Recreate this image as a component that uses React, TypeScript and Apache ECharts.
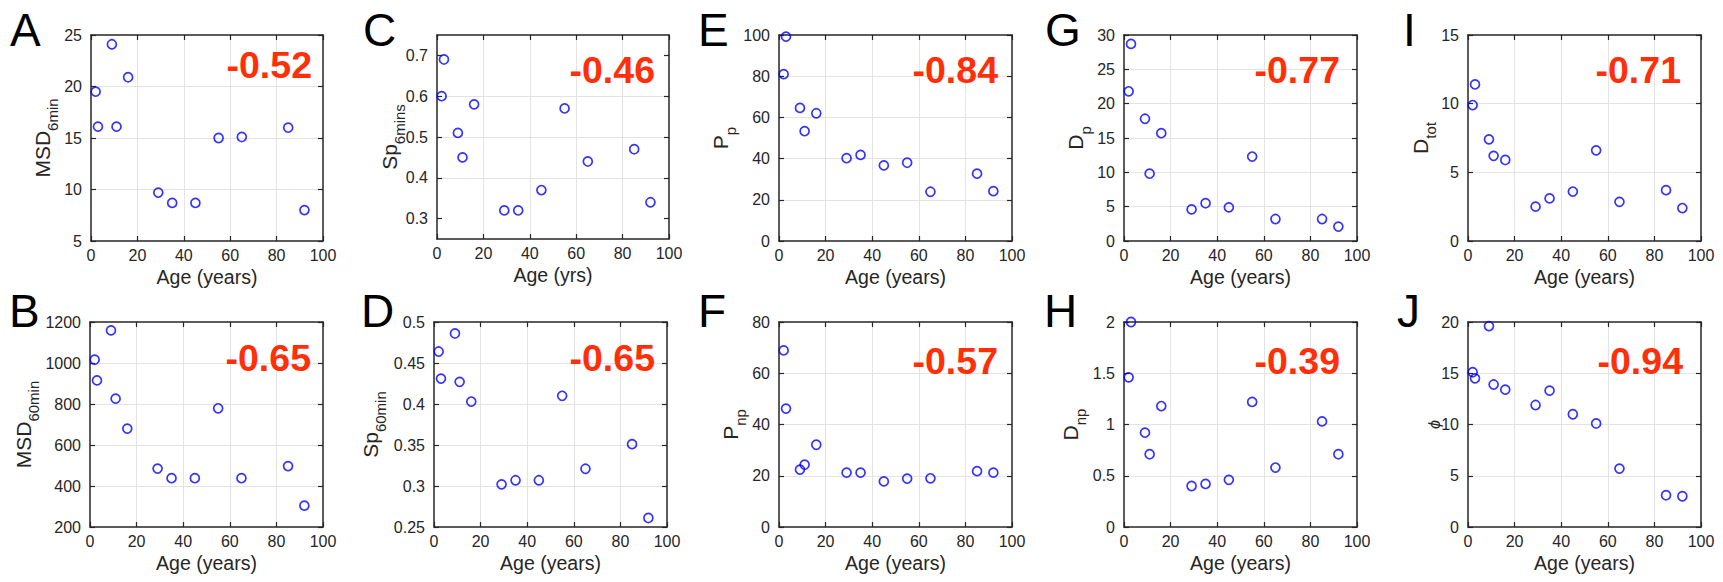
import React, { useEffect, useRef } from 'react';
import * as echarts from 'echarts';

// ---------- data ----------
const ages = [2, 3, 9, 11, 16, 29, 35, 45, 55, 65, 85, 92];
const msd6 = [19.5, 16.1, 24.1, 16.1, 20.9, 9.7, 8.7, 8.7, 15.0, 15.1, 16.0, 8.0];
const msd60 = [1016, 915, 1159, 826, 680, 485, 438, 438, 779, 438, 497, 304];
const sp6 = [0.6, 0.69, 0.51, 0.45, 0.58, 0.32, 0.32, 0.37, 0.57, 0.44, 0.47, 0.34];
const sp60 = [0.464, 0.431, 0.486, 0.427, 0.403, 0.302, 0.307, 0.307, 0.41, 0.321, 0.351, 0.261];
const pp = [81.0, 99.2, 64.6, 53.3, 62.0, 40.2, 41.8, 36.7, 38.0, 23.9, 32.7, 24.2];
const pnp = [68.9, 46.2, 22.4, 24.3, 32.1, 21.2, 21.2, 17.8, 18.9, 19.0, 21.8, 21.2];
const dp = [21.8, 28.7, 17.8, 9.8, 15.7, 4.6, 5.5, 4.9, 12.3, 3.2, 3.2, 2.1];
const dnp = [1.46, 2.0, 0.92, 0.71, 1.18, 0.4, 0.42, 0.46, 1.22, 0.58, 1.03, 0.71];
const dtot = [9.9, 11.4, 7.4, 6.2, 5.9, 2.5, 3.1, 3.6, 6.6, 2.85, 3.7, 2.4];
const phi = [15.1, 14.5, 19.6, 13.9, 13.4, 11.9, 13.3, 11.0, 10.1, 5.7, 3.1, 3.0];

const panelLetters = ['A', 'B', 'C', 'D', 'E', 'F', 'G', 'H', 'I', 'J'];
const correlations = ['-0.52', '-0.65', '-0.46', '-0.65', '-0.84', '-0.57', '-0.77', '-0.39', '-0.71', '-0.94'];
const yMainLabels = ['MSD', 'MSD', 'Sp', 'Sp', 'P', 'P', 'D', 'D', 'D', '\u03d5'];
const ySubLabels = ['6min', '60min', '6mins', '60min', 'p', 'np', 'p', 'np', 'tot', ''];
const xLabels = ['Age (years)', 'Age (years)', 'Age (yrs)', 'Age (years)', 'Age (years)', 'Age (years)', 'Age (years)', 'Age (years)', 'Age (years)', 'Age (years)'];
const seriesValues = [msd6, msd60, sp6, sp60, pp, pnp, dp, dnp, dtot, phi];
const yMins = [5, 200, 0.25, 0.25, 0, 0, 0, 0, 0, 0];
const yMaxs = [25, 1200, 0.75, 0.5, 100, 80, 30, 2, 15, 20];
const yTickValues = [
  [5, 10, 15, 20, 25],
  [200, 400, 600, 800, 1000, 1200],
  [0.3, 0.4, 0.5, 0.6, 0.7],
  [0.25, 0.3, 0.35, 0.4, 0.45, 0.5],
  [0, 20, 40, 60, 80, 100],
  [0, 20, 40, 60, 80],
  [0, 5, 10, 15, 20, 25, 30],
  [0, 0.5, 1, 1.5, 2],
  [0, 5, 10, 15],
  [0, 5, 10, 15, 20],
];
const xTickValues = [0, 20, 40, 60, 80, 100];

// ---------- layout (pixels) ----------
const gridBoxes = [
  [91, 35, 232, 206],
  [90, 322, 233, 205],
  [437, 35, 232, 204],
  [434, 322, 233, 205],
  [779, 35, 233, 206],
  [779, 322, 233, 205],
  [1124, 35, 233, 206],
  [1124, 322, 233, 205],
  [1468, 35, 233, 206],
  [1468, 322, 233, 205],
];
const letterPos = [
  [10, 30], [9, 311], [363, 30], [361, 311], [698, 30],
  [698, 311], [1045, 30], [1044, 311], [1403, 30], [1397, 311],
];
const corrPos = [
  [312, 65], [311, 358], [655, 70], [655, 358], [998, 70],
  [998, 361], [1340, 70], [1340, 361], [1681, 70], [1683, 361],
];
const yLabelX = [46, 27, 393, 374, 724, 734, 1079, 1074, 1424, 1434];

const FONT = '"Liberation Sans", Arial, Helvetica, sans-serif';
const AX = '#262626';
const GRIDC = '#e3e3e3';

const plain = (v: number) => String(Math.round(v * 1000) / 1000);

function buildOption() {
  const grids: any[] = [];
  const xAxes: any[] = [];
  const yAxes: any[] = [];
  const series: any[] = [];
  const graphics: any[] = [];

  const lineStyle = { color: AX, width: 1.5 };
  const tick = { show: true, inside: true, length: 5, lineStyle: { color: AX, width: 1.2 } };

  for (let i = 0; i < 10; i++) {
    const [l, t, w, h] = gridBoxes[i];
    grids.push({ left: l, top: t, width: w, height: h, containLabel: false, show: false });

    xAxes.push({
      type: 'value', gridIndex: i, position: 'bottom', min: 0, max: 100,
      axisLine: { show: true, onZero: false, lineStyle },
      axisTick: { ...tick, customValues: xTickValues },
      axisLabel: { customValues: xTickValues, formatter: plain, color: AX, fontSize: 16, fontFamily: FONT, margin: 6 },
      splitLine: { show: true, showMinLine: false, showMaxLine: false, lineStyle: { color: GRIDC, width: 1 } },
      name: xLabels[i], nameLocation: 'middle', nameGap: 26,
      nameTextStyle: { color: AX, fontSize: 19.5, fontFamily: FONT },
    });
    xAxes.push({
      type: 'value', gridIndex: i, position: 'top', min: 0, max: 100,
      axisLine: { show: true, onZero: false, lineStyle },
      axisTick: { ...tick, customValues: xTickValues },
      axisLabel: { show: false, customValues: xTickValues },
      splitLine: { show: false },
    });
    yAxes.push({
      type: 'value', gridIndex: i, position: 'left', min: yMins[i], max: yMaxs[i],
      axisLine: { show: true, onZero: false, lineStyle },
      axisTick: { ...tick, customValues: yTickValues[i] },
      axisLabel: { customValues: yTickValues[i], formatter: plain, color: AX, fontSize: 16, fontFamily: FONT, margin: 9 },
      splitLine: { show: true, showMinLine: false, showMaxLine: false, lineStyle: { color: GRIDC, width: 1 } },
    });
    yAxes.push({
      type: 'value', gridIndex: i, position: 'right', min: yMins[i], max: yMaxs[i],
      axisLine: { show: true, onZero: false, lineStyle },
      axisTick: { ...tick, customValues: yTickValues[i] },
      axisLabel: { show: false, customValues: yTickValues[i] },
      splitLine: { show: false },
    });

    const vals = seriesValues[i];
    series.push({
      type: 'scatter', xAxisIndex: i * 2, yAxisIndex: i * 2,
      data: ages.map((a, j) => [a, vals[j]]),
      symbol: 'circle', symbolSize: 9, clip: false, silent: true, z: 5,
      itemStyle: { color: 'rgba(0,0,0,0)', borderColor: '#0000ff', borderWidth: 1.7 },
      emphasis: { disabled: true },
    });

    graphics.push({
      type: 'text', x: letterPos[i][0], y: letterPos[i][1], silent: true, z: 100,
      style: { text: panelLetters[i], fill: '#000', fontSize: 46, fontFamily: FONT, align: 'left', verticalAlign: 'middle' },
    });
    graphics.push({
      type: 'text', x: corrPos[i][0], y: corrPos[i][1], silent: true, z: 100,
      style: { text: correlations[i], fill: '#ff2f0a', fontSize: 37.5, fontWeight: 'bold', fontFamily: FONT, align: 'right', verticalAlign: 'middle' },
    });
    const cy = t + h / 2;
    if (ySubLabels[i]) {
      graphics.push({
        type: 'text', x: yLabelX[i], y: cy, rotation: Math.PI / 2, silent: true, z: 100,
        style: {
          text: `{a|${yMainLabels[i]}}{b|${ySubLabels[i]}}`,
          align: 'center', verticalAlign: 'middle',
          rich: {
            a: { fontSize: 21, fontFamily: FONT, fill: AX, verticalAlign: 'top' },
            b: { fontSize: 15, fontFamily: FONT, fill: AX, verticalAlign: 'bottom', padding: [13, 0, 0, 0] },
          },
        },
      });
    } else {
      graphics.push({
        type: 'text', x: yLabelX[i], y: cy, rotation: Math.PI / 2, silent: true, z: 100,
        style: { text: yMainLabels[i], fill: AX, fontSize: 16, fontStyle: 'italic', fontFamily: FONT, align: 'center', verticalAlign: 'middle' },
      });
    }
  }

  return {
    animation: false,
    backgroundColor: '#ffffff',
    textStyle: { fontFamily: FONT },
    grid: grids,
    xAxis: xAxes,
    yAxis: yAxes,
    series,
    graphic: { elements: graphics },
  };
}

export default function App() {
  const ref = useRef<HTMLDivElement>(null);
  useEffect(() => {
    if (!ref.current) return;
    const chart = echarts.init(ref.current, undefined, { renderer: 'svg' });
    chart.setOption(buildOption() as any);
    return () => chart.dispose();
  }, []);
  return (
    <div
      ref={ref}
      style={{ position: 'absolute', left: 0, top: 0, width: 1723, height: 582, background: '#fff' }}
    />
  );
}
